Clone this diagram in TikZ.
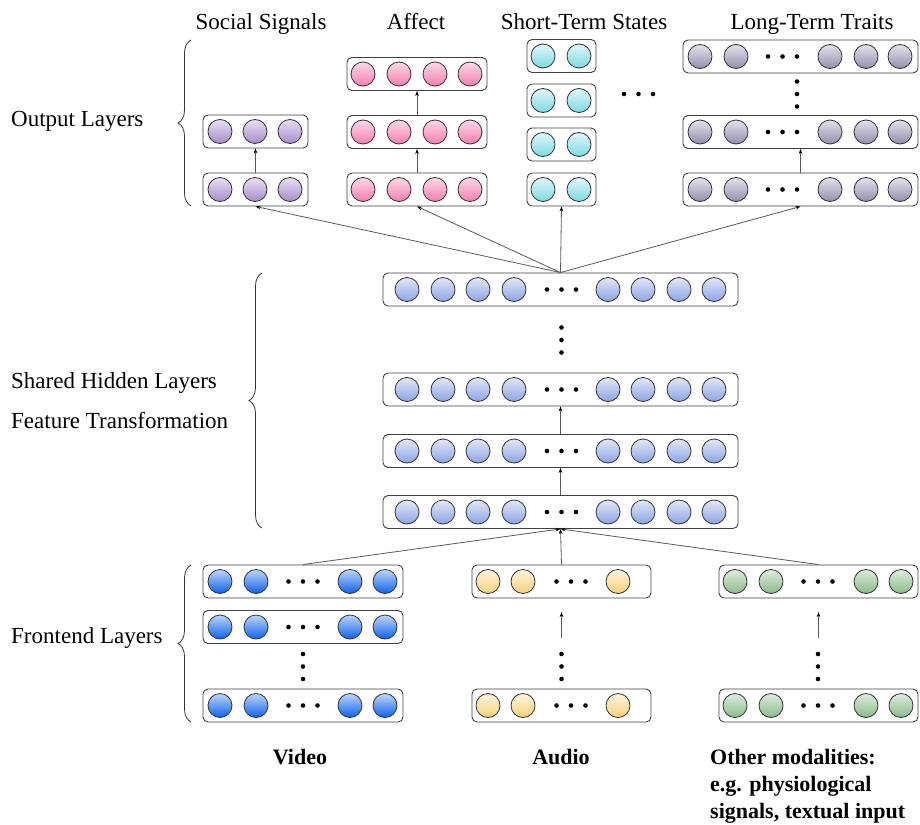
\documentclass[tikz,border=0pt]{standalone}
\usepackage{fontspec}
\setmainfont{Liberation Serif}
\usetikzlibrary{arrows.meta,decorations.pathreplacing}
\definecolor{soctop}{HTML}{E8E0F3}\definecolor{socbot}{HTML}{A68DCB}
\definecolor{afftop}{HTML}{FFD8E7}\definecolor{affbot}{HTML}{F47EAF}
\definecolor{shtop}{HTML}{E2F7F9}\definecolor{shbot}{HTML}{7CD9E2}
\definecolor{lotop}{HTML}{E4E2EC}\definecolor{lobot}{HTML}{948EAC}
\definecolor{hidtop}{HTML}{E2E8F7}\definecolor{hidbot}{HTML}{8CA4E6}
\definecolor{vidtop}{HTML}{BCD6FB}\definecolor{vidbot}{HTML}{0F60EF}
\definecolor{audtop}{HTML}{FFF5DE}\definecolor{audbot}{HTML}{F6D07A}
\definecolor{othtop}{HTML}{DEEDDE}\definecolor{othbot}{HTML}{8ABA8A}
\newcommand{\threedotsh}[3]{%
  \node[dotn] (#1-a) at (#2-14.5,#3) {};
  \node[dotn] (#1-b) at (#2,#3) {};
  \node[dotn] (#1-c) at (#2+14.5,#3) {};}
\newcommand{\threedotsv}[3]{%
  \node[dotn] (#1-a) at (#2,#3-12.5) {};
  \node[dotn] (#1-b) at (#2,#3) {};
  \node[dotn] (#1-c) at (#2,#3+12.5) {};}
\begin{document}
\begin{tikzpicture}[x=1pt,y=-1pt,
  layerbox/.style={draw=black!75, rounded corners=5pt, line width=0.9pt, fill=white, inner sep=0pt, minimum height=33pt},
  neuron/.style={circle, draw=black!80, line width=0.8pt, minimum size=24pt, inner sep=0pt},
  soc/.style={neuron, top color=soctop, bottom color=socbot},
  aff/.style={neuron, top color=afftop, bottom color=affbot},
  sht/.style={neuron, top color=shtop, bottom color=shbot},
  lot/.style={neuron, top color=lotop, bottom color=lobot},
  hid/.style={neuron, top color=hidtop, bottom color=hidbot},
  vid/.style={neuron, top color=vidtop, bottom color=vidbot},
  aud/.style={neuron, top color=audtop, bottom color=audbot},
  oth/.style={neuron, top color=othtop, bottom color=othbot},
  dotn/.style={circle, fill=black, inner sep=0pt, minimum size=4.6pt},
  arr/.style={draw=black!65, line width=0.8pt, -{Stealth[length=5pt,width=3.6pt,color=black]}},
  lbl/.style={font=\fontsize{23}{27}\selectfont, inner sep=0pt},
  blbl/.style={font=\fontsize{22}{27}\selectfont\bfseries, inner sep=0pt},
  brc/.style={draw=black!80, line width=0.8pt, decorate, decoration={brace, amplitude=13pt}}
]
\useasboundingbox (0,0) rectangle (920,824);

% ---------- shared hidden layers ----------
\foreach \nm/\y in {H1/512, H2/451, H3/389.5, H4/289.5}{
  \node[layerbox, minimum width=355pt] (\nm) at (560.5,\y) {};
  \foreach \x [count=\i] in {407,443,478,514,608,643,679,714}
    \node[hid] (\nm-\i) at (\x,\y) {};
  \threedotsh{\nm-d}{561.5}{\y}
}
\threedotsv{Hv}{561.5}{340}
\draw[arr] (H1.north) -- (H2.south);
\draw[arr] (H2.north) -- (H3.south);

% ---------- output layers ----------
\foreach \nm/\y in {S1/189.5, S2/131.5}{
  \node[layerbox, minimum width=105pt] (\nm) at (255.5,\y) {};
  \foreach \x [count=\i] in {220,255,290}
    \node[soc] (\nm-\i) at (\x,\y) {};
}
\foreach \nm/\y in {A1/189.5, A2/132, A3/74}{
  \node[layerbox, minimum width=140pt] (\nm) at (417,\y) {};
  \foreach \x [count=\i] in {363,399,435,470}
    \node[aff] (\nm-\i) at (\x,\y) {};
}
\foreach \nm/\y in {T1/189.5, T2/144.5, T3/100.5, T4/56}{
  \node[layerbox, minimum width=69pt] (\nm) at (561.5,\y) {};
  \foreach \x [count=\i] in {543,579}
    \node[sht] (\nm-\i) at (\x,\y) {};
}
\threedotsh{Tdots}{638.5}{94}
\foreach \nm/\y in {L1/189.5, L2/132, L3/56.5}{
  \node[layerbox, minimum width=235pt] (\nm) at (800.5,\y) {};
  \foreach \x [count=\i] in {700,736,830,866,900}
    \node[lot] (\nm-\i) at (\x,\y) {};
  \threedotsh{\nm-d}{782.5}{\y}
}
\threedotsv{Lv}{797}{94}
\draw[arr] (S1.north) -- (S2.south);
\draw[arr] (A1.north) -- (A2.south);
\draw[arr] (A2.north) -- (A3.south);
\draw[arr] (L1.north) -- (L2.south);
\foreach \t in {S1,A1,T1,L1}
  \draw[arr] (H4.north) -- (\t.south);

% ---------- frontend layers ----------
\foreach \nm/\y in {V1/581.5, V2/627, V3/705.5}{
  \node[layerbox, minimum width=200pt] (\nm) at (303,\y) {};
  \foreach \x [count=\i] in {220,256,350,385}
    \node[vid] (\nm-\i) at (\x,\y) {};
  \threedotsh{\nm-d}{303}{\y}
}
\threedotsv{Vv}{303}{666.5}
\foreach \nm/\y in {U1/581.5, U2/705.5}{
  \node[layerbox, minimum width=179pt] (\nm) at (561.5,\y) {};
  \foreach \x [count=\i] in {488,523,618}
    \node[aud] (\nm-\i) at (\x,\y) {};
  \threedotsh{\nm-d}{571}{\y}
}
\threedotsv{Uv}{561.5}{666.5}
\foreach \nm/\y in {O1/581.5, O2/705.5}{
  \node[layerbox, minimum width=199pt] (\nm) at (818.5,\y) {};
  \foreach \x [count=\i] in {735,771,866,901}
    \node[oth] (\nm-\i) at (\x,\y) {};
  \threedotsh{\nm-d}{818}{\y}
}
\threedotsv{Ov}{818}{666.5}
\coordinate (ua) at (561.5,638);
\coordinate (ub) at (561.5,612);
\coordinate (oa) at (818.5,638);
\coordinate (ob) at (818.5,612);
\draw[arr] (ua) -- (ub);
\draw[arr] (oa) -- (ob);
\foreach \s in {V1,U1,O1}
  \draw[arr] (\s.north) -- (H1.south);

% ---------- braces ----------
\draw[brc] (191,206) -- (191,40);
\draw[brc] (262,528) -- (262,273);
\draw[brc] (191,722) -- (191,565);

% ---------- labels ----------
\node[lbl, anchor=base] (tSoc) at (261,30) {Social Signals};
\node[lbl, anchor=base] (tAff) at (416,30) {Affect};
\node[lbl, anchor=base] (tSht) at (584,30) {Short-Term States};
\node[lbl, anchor=base] (tLon) at (812,30) {Long-Term Traits};
\node[lbl, anchor=base west] (tOut) at (11,127) {Output Layers};
\node[lbl, anchor=base west] (tShr) at (11,388) {Shared Hidden Layers};
\node[lbl, anchor=base west] (tFea) at (11,428) {Feature Transformation};
\node[lbl, anchor=base west] (tFro) at (11,643) {Frontend Layers};
\node[blbl, anchor=base] (tVid) at (300,764) {Video};
\node[blbl, anchor=base] (tAud) at (561,764) {Audio};
\node[blbl, anchor=base west] (tOt1) at (710,764) {Other modalities:};
\node[blbl, anchor=base west] (tOt2) at (710,791) {e.g. physiological};
\node[blbl, anchor=base west] (tOt3) at (710,818) {signals, textual input};
\end{tikzpicture}
\end{document}
